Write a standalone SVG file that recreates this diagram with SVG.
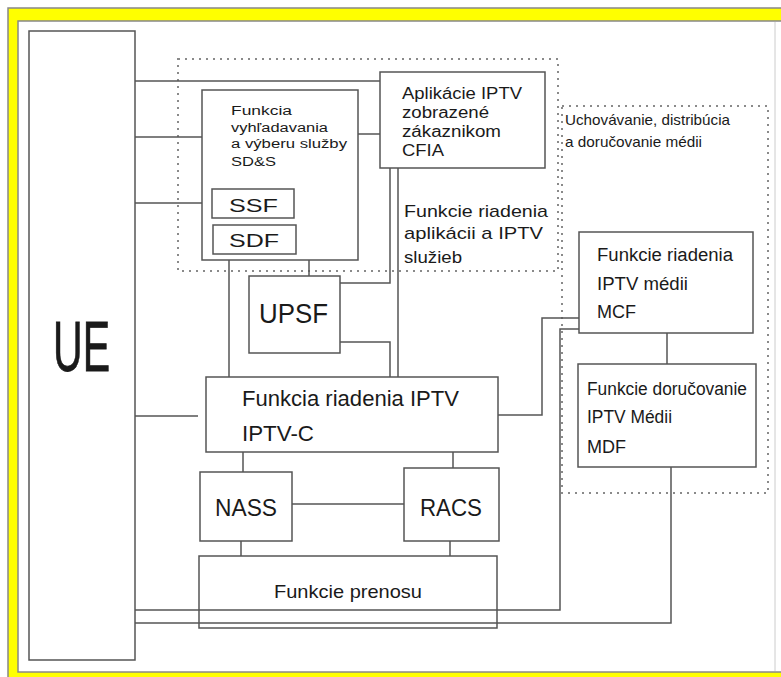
<svg xmlns="http://www.w3.org/2000/svg" width="781" height="677" viewBox="0 0 781 677">
<style>
.box{fill:#fff;stroke:#555;stroke-width:1.5}
.ln{fill:none;stroke:#555;stroke-width:1.5}
.dot{fill:none;stroke:#8a8a8a;stroke-width:2;stroke-dasharray:2 5}
text{font-family:"Liberation Sans",Arial,sans-serif;fill:#1a1a1a}
</style>
<rect x="8" y="8" width="790" height="700" fill="#ffff00" stroke="#888" stroke-width="1.5"/>
<rect x="18" y="21" width="780" height="651" fill="#fff" stroke="#888" stroke-width="1.5"/>
<line x1="775" y1="22" x2="775" y2="671" stroke="#ccc" stroke-width="1"/>

<g id="regions">
<rect class="dot" x="178" y="59" width="380" height="212"/>
<rect class="dot" x="562" y="106" width="206" height="387"/>
<text x="404" y="217" font-size="17" textLength="144" lengthAdjust="spacingAndGlyphs">Funkcie riadenia</text>
<text x="404" y="239" font-size="17" textLength="139" lengthAdjust="spacingAndGlyphs">aplikácii a IPTV</text>
<text x="404" y="263" font-size="17" textLength="58" lengthAdjust="spacingAndGlyphs">služieb</text>
<text x="565" y="125" font-size="15" textLength="165" lengthAdjust="spacingAndGlyphs">Uchovávanie, distribúcia</text>
<text x="565" y="147" font-size="15" textLength="137" lengthAdjust="spacingAndGlyphs">a doručovanie médii</text>
</g>

<g id="connectors">
<polyline class="ln" points="135,81 380,81"/>
<polyline class="ln" points="135,137 202,137"/>
<polyline class="ln" points="135,203 212,203"/>
<polyline class="ln" points="358,134 380,134"/>
<polyline class="ln" points="229,254 229,377"/>
<polyline class="ln" points="296,236 309,236 309,276"/>
<polyline class="ln" points="390,168 390,283 340,283"/>
<polyline class="ln" points="398,168 398,377"/>
<polyline class="ln" points="340,342 390,342 390,377"/>
<polyline class="ln" points="135,416 198,416"/>
<polyline class="ln" points="498,415 542,415 542,318 579,318"/>
<polyline class="ln" points="579,329 560,329 560,610 135,610"/>
<polyline class="ln" points="671,467 671,623 135,623"/>
<polyline class="ln" points="667,333 667,364"/>
<polyline class="ln" points="243,452 243,472"/>
<polyline class="ln" points="453,452 453,468"/>
<polyline class="ln" points="292,504 404,504"/>
<polyline class="ln" points="241,541 241,556"/>
<polyline class="ln" points="450,541 450,556"/>
</g>

<g id="UE">
<rect class="box" x="29" y="31" width="106" height="629"/>
<text x="53" y="371" font-size="71" textLength="57" lengthAdjust="spacingAndGlyphs" stroke="#1a1a1a" stroke-width="0.8" style="font-family:'Liberation Sans Narrow','Liberation Sans',Arial,sans-serif">UE</text>
</g>

<g id="SDS">
<rect class="box" x="202" y="90" width="156" height="170"/>
<text x="231" y="115" font-size="12" textLength="61" lengthAdjust="spacingAndGlyphs">Funkcia</text>
<text x="231" y="132" font-size="12" textLength="97" lengthAdjust="spacingAndGlyphs">vyhľadavania</text>
<text x="231" y="148" font-size="12" textLength="116" lengthAdjust="spacingAndGlyphs">a výberu služby</text>
<text x="231" y="166" font-size="12" textLength="45" lengthAdjust="spacingAndGlyphs">SD&amp;S</text>
</g>

<g id="SSF">
<rect class="box" x="212" y="189" width="82" height="29"/>
<text x="229" y="212" font-size="18" textLength="49" lengthAdjust="spacingAndGlyphs">SSF</text>
</g>

<g id="SDF">
<rect class="box" x="213" y="225" width="83" height="29"/>
<text x="229" y="247" font-size="18" textLength="50" lengthAdjust="spacingAndGlyphs">SDF</text>
</g>

<g id="CFIA">
<rect class="box" x="380" y="72" width="165" height="96"/>
<text x="402" y="99" font-size="16" textLength="120" lengthAdjust="spacingAndGlyphs">Aplikácie IPTV</text>
<text x="402" y="118" font-size="16" textLength="87" lengthAdjust="spacingAndGlyphs">zobrazené</text>
<text x="402" y="137" font-size="16" textLength="99" lengthAdjust="spacingAndGlyphs">zákaznikom</text>
<text x="402" y="156" font-size="16" textLength="42" lengthAdjust="spacingAndGlyphs">CFIA</text>
</g>

<g id="UPSF">
<rect class="box" x="249" y="276" width="91" height="77"/>
<text x="259" y="323" font-size="28" textLength="69" lengthAdjust="spacingAndGlyphs">UPSF</text>
</g>

<g id="IPTV-C">
<rect class="box" x="206" y="377" width="292" height="75"/>
<text x="242" y="406" font-size="22" textLength="217" lengthAdjust="spacingAndGlyphs">Funkcia riadenia IPTV</text>
<text x="242" y="441" font-size="22" textLength="72" lengthAdjust="spacingAndGlyphs">IPTV-C</text>
</g>

<g id="NASS">
<rect class="box" x="200" y="472" width="92" height="69"/>
<text x="215" y="516" font-size="24" textLength="62" lengthAdjust="spacingAndGlyphs">NASS</text>
</g>

<g id="RACS">
<rect class="box" x="404" y="468" width="95" height="73"/>
<text x="420" y="516" font-size="24" textLength="62" lengthAdjust="spacingAndGlyphs">RACS</text>
</g>

<g id="prenos">
<rect class="box" x="199" y="556" width="298" height="72" style="fill:none"/>
<text x="274" y="598" font-size="19" textLength="148" lengthAdjust="spacingAndGlyphs">Funkcie prenosu</text>
</g>

<g id="MCF">
<rect class="box" x="579" y="232" width="174" height="101"/>
<text x="597" y="261" font-size="18" textLength="136" lengthAdjust="spacingAndGlyphs">Funkcie riadenia</text>
<text x="597" y="290" font-size="18" textLength="91" lengthAdjust="spacingAndGlyphs">IPTV médii</text>
<text x="597" y="318" font-size="18" textLength="39" lengthAdjust="spacingAndGlyphs">MCF</text>
</g>

<g id="MDF">
<rect class="box" x="578" y="364" width="178" height="103"/>
<text x="587" y="395" font-size="18" textLength="160" lengthAdjust="spacingAndGlyphs">Funkcie doručovanie</text>
<text x="587" y="423" font-size="18" textLength="85" lengthAdjust="spacingAndGlyphs">IPTV Médii</text>
<text x="587" y="453" font-size="18" textLength="39" lengthAdjust="spacingAndGlyphs">MDF</text>
</g>
</svg>
